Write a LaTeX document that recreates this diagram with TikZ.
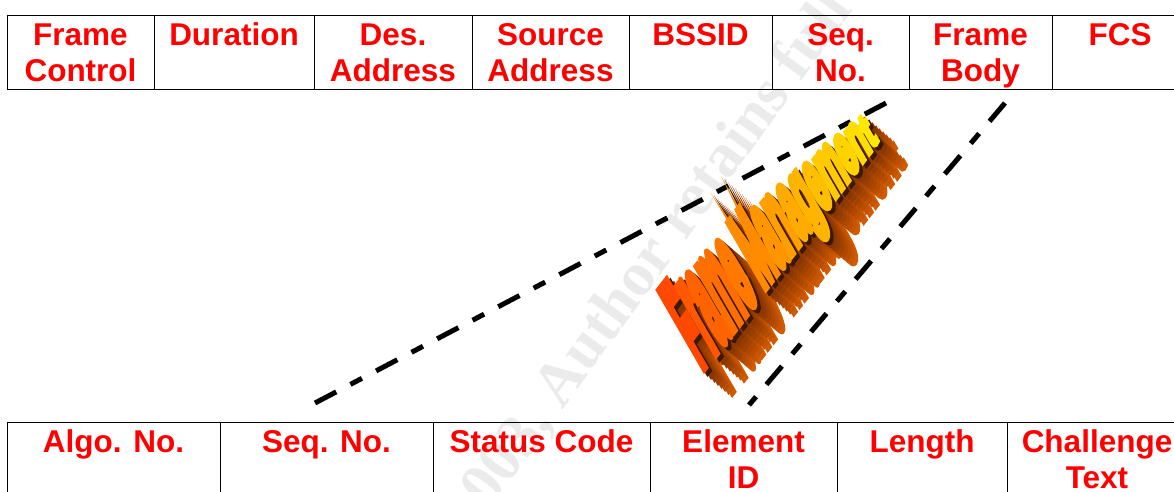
\documentclass[tikz,border=0pt]{standalone}
\usepackage{fontspec}
\usepackage{graphicx}
\setmainfont{Liberation Sans}
\newfontfamily\wmfont{Liberation Serif}
\newfontfamily\wafont{Liberation Sans}[BoldFeatures={FakeBold=11}]
\definecolor{cellred}{HTML}{FF0000}
\definecolor{waR}{HTML}{FF4800}
\definecolor{waY}{HTML}{FFE800}
\definecolor{exFar}{HTML}{D25A00}
\definecolor{exMid}{HTML}{8A3600}
\definecolor{exNear}{HTML}{3C1800}
\definecolor{wmgray}{HTML}{EBEBEB}
\newif\ifwaface
\newcommand\wal[3]{{\ifwaface\color{waY!#3!waR}\fi\scalebox{1}[#1]{#2}}}
\newcommand\watext{\wal{1.000}{F}{0}\wal{1.093}{r}{10}\wal{1.072}{a}{17}\wal{1.045}{m}{24}\wal{1.013}{e}{30} \wal{0.848}{M}{42}\wal{0.893}{a}{49}\wal{0.846}{n}{55}\wal{0.796}{a}{62}\wal{0.743}{g}{68}\wal{0.688}{e}{74}\wal{0.630}{m}{81}\wal{0.570}{e}{87}\wal{0.507}{n}{93}\wal{0.380}{t}{100}}
\tikzset{
  cell/.style={draw=black, line width=1.4pt, inner sep=0pt, anchor=north west},
  txt/.style={text=cellred, font=\bfseries\fontsize{31.5}{36}\selectfont, align=center, inner sep=0pt, anchor=north},
  dashline/.style={draw=black, line width=5pt, dash pattern=on 24pt off 16pt on 13pt off 16pt},
  wanode/.style={anchor=base west, inner sep=0pt, transform shape, font=\wafont\bfseries\fontsize{10}{12}\selectfont},
  wm/.style={text=wmgray, font=\wmfont\bfseries\fontsize{62}{70}\selectfont, inner sep=0pt, anchor=base west}
}
\begin{document}
\begin{tikzpicture}[x=1pt, y=1pt]
\useasboundingbox (0,0) rectangle (1174,-491);
\fill[white] (0,0) rectangle (1174,-491);
% watermark
\begin{scope}
  \clip (0,0) rectangle (1174,-491);
  \node[wm, rotate=54] (wmark) at (192,-920) {© SANS Institute 2003, Author retains full rights.};
\end{scope}
% top table
\node[cell, minimum width=147pt, minimum height=74pt] (t1) at (7,-15) {};
\node[cell, minimum width=160pt, minimum height=74pt] (t2) at (154,-15) {};
\node[cell, minimum width=158pt, minimum height=74pt] (t3) at (314,-15) {};
\node[cell, minimum width=157pt, minimum height=74pt] (t4) at (472,-15) {};
\node[cell, minimum width=143pt, minimum height=74pt] (t5) at (629,-15) {};
\node[cell, minimum width=137pt, minimum height=74pt] (t6) at (772,-15) {};
\node[cell, minimum width=143pt, minimum height=74pt] (t7) at (909,-15) {};
\node[cell, minimum width=136pt, minimum height=74pt] (t8) at (1052,-15) {};
\node[txt] (l1) at (80.5,-20) {\rule{0pt}{25pt}Frame\\Control};
\node[txt] (l2) at (234,-20) {\rule{0pt}{25pt}Duration};
\node[txt] (l3) at (393,-20) {\rule{0pt}{25pt}Des.\\Address};
\node[txt] (l4) at (550.5,-20) {\rule{0pt}{25pt}Source\\Address};
\node[txt] (l5) at (700.5,-20) {\rule{0pt}{25pt}BSSID};
\node[txt] (l6) at (840.5,-20) {\rule{0pt}{25pt}Seq.\\No.};
\node[txt] (l7) at (980.5,-20) {\rule{0pt}{25pt}Frame\\Body};
\node[txt] (l8) at (1120,-20) {\rule{0pt}{25pt}FCS};
% bottom table
\node[cell, minimum width=213pt, minimum height=90pt] (b1) at (7,-422) {};
\node[cell, minimum width=213pt, minimum height=90pt] (b2) at (220,-422) {};
\node[cell, minimum width=217pt, minimum height=90pt] (b3) at (433,-422) {};
\node[cell, minimum width=187pt, minimum height=90pt] (b4) at (650,-422) {};
\node[cell, minimum width=170pt, minimum height=90pt] (b5) at (837,-422) {};
\node[cell, minimum width=181pt, minimum height=90pt] (b6) at (1007,-422) {};
\node[txt] (m1) at (113.5,-427) {\rule{0pt}{25pt}Algo. No.};
\node[txt] (m2) at (326.5,-427) {\rule{0pt}{25pt}Seq. No.};
\node[txt] (m3) at (541.5,-427) {\rule{0pt}{25pt}Status Code};
\node[txt] (m4) at (743.5,-427) {\rule{0pt}{25pt}Element\\ID};
\node[txt] (m5) at (922,-427) {\rule{0pt}{25pt}Length};
\node[txt] (m6) at (1097,-427) {\rule{0pt}{25pt}Challenge\\Text};
% dashed guide lines
\coordinate (aT) at (886,-103);
\coordinate (aB) at (315,-403);
\coordinate (bT) at (1005,-103);
\coordinate (bB) at (749,-405);
\draw[dashline] (aT) -- (aB);
\draw[dashline] (bT) -- (bB);
% word art: extrusion then face
\foreach \k in {8,7,...,2} {
  \pgfmathsetmacro\fr{\k/8}
  \pgfmathtruncatemacro\pc{100*(\k-2)/6}
  \begin{scope}[shift={({700+28*\fr},{-369-24*\fr})}, cm={1.896,2.427,-6.1,10.56,(0,0)}]
    \node[wanode, text=exFar!\pc!exMid] (wae\k) at (0,0) {\wafacefalse\watext};
  \end{scope}
}
\begin{scope}[shift={({700+28/8},{-369-24/8})}, cm={1.896,2.427,-6.1,10.56,(0,0)}]
  \node[wanode, text=exNear] (wae1) at (0,0) {\wafacefalse\watext};
\end{scope}
\begin{scope}[shift={(700,-369)}, cm={1.896,2.427,-6.1,10.56,(0,0)}]
  \node[wanode] (wa) at (0,0) {\wafacetrue\watext};
\end{scope}
\end{tikzpicture}
\end{document}
